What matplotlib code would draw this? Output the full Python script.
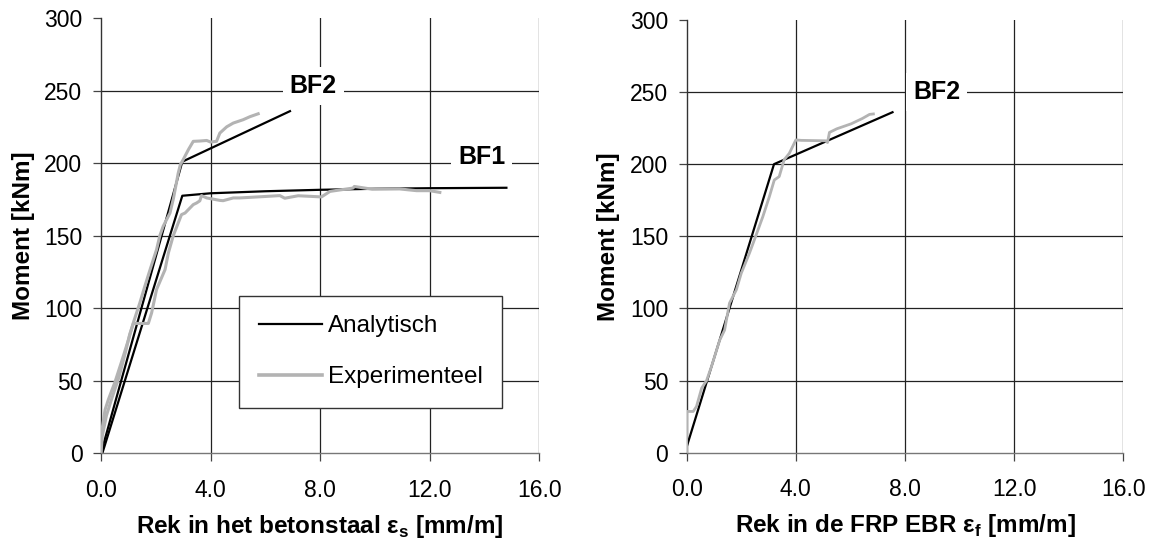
import matplotlib
matplotlib.use("Agg")
import matplotlib.pyplot as plt
from matplotlib.lines import Line2D

plt.rcParams['font.family'] = ['Liberation Sans', 'DejaVu Sans']
plt.rcParams['mathtext.fontset'] = 'custom'
plt.rcParams['mathtext.rm'] = 'Liberation Sans'
plt.rcParams['mathtext.bf'] = 'Liberation Sans:bold'

# --- Left panel: strain in the reinforcing steel ---
bf1_ana_x = [0.05, 2.97, 4.0, 6.0, 8.0, 10.0, 12.0, 14.8]
bf1_ana_y = [0.0, 177.5, 179.2, 180.6, 181.6, 182.3, 182.7, 183.0]

bf2_ana_x = [0.0, 2.97, 6.9]
bf2_ana_y = [0.0, 201.0, 235.8]

bf1_exp_x = [0.0, 0.05, 0.2, 0.4, 0.65, 0.9, 1.05, 1.18, 1.73, 1.85, 2.03, 2.34,
             2.46, 2.64, 2.94, 3.07, 3.37, 3.49, 3.61, 3.67, 3.86, 4.34, 4.46,
             4.83, 5.07, 6.0, 6.53, 6.71, 7.2, 8.05, 8.36, 9.2, 9.25, 9.9, 10.9,
             11.52, 12.0, 12.37]
bf1_exp_y = [0.0, 12.0, 26.0, 38.0, 52.0, 70.0, 82.0, 89.5, 89.5, 96.8, 112.9, 126.6,
             138.0, 150.0, 164.5, 165.6, 171.4, 172.5, 174.0, 177.6, 176.0, 174.3, 174.1,
             176.0, 176.0, 177.0, 177.6, 175.8, 177.5, 176.7, 180.5, 182.8, 183.9, 182.0,
             182.2, 181.0, 181.0, 179.8]

bf2_exp_x = [0.0, 0.02, 0.15, 0.27, 0.51, 0.75, 1.0, 1.2, 1.42, 1.6, 1.8, 2.03,
             2.15, 2.27, 2.52, 2.65, 2.82, 2.9, 3.0, 3.19, 3.37, 3.6, 3.86, 4.0,
             4.22, 4.34, 4.59, 4.83, 5.19, 5.44, 5.74]
bf2_exp_y = [0.0, 14.0, 30.0, 37.0, 49.0, 63.0, 78.0, 91.0, 103.7, 115.0, 127.0, 140.4,
             150.0, 156.4, 165.6, 176.0, 193.0, 199.0, 202.3, 209.2, 215.0, 215.2, 215.6, 214.5,
             215.0, 220.7, 225.0, 227.6, 229.9, 232.0, 234.0]

# --- Right panel: strain in the externally bonded FRP ---
frp_ana_x = [0.0, 3.2, 7.54]
frp_ana_y = [4.0, 200.0, 236.0]

frp_exp_x = [0.0, 0.0, 0.24, 0.36, 0.55, 0.73, 0.91, 1.21, 1.39, 1.57, 1.82, 2.0,
             2.3, 2.48, 2.79, 3.03, 3.21, 3.39, 3.57, 3.76, 4.0, 4.2, 5.09, 5.16,
             5.23, 5.5, 6.03, 6.44, 6.7, 6.84]
frp_exp_y = [0.0, 28.6, 28.6, 32.0, 44.8, 50.0, 59.8, 78.0, 85.0, 103.7, 112.9, 124.4,
             138.3, 147.5, 163.6, 177.5, 189.0, 191.4, 203.0, 207.5, 216.8, 216.5, 216.2, 215.0,
             222.0, 224.5, 228.0, 231.7, 234.5, 234.8]

x_ticks = [0, 4, 8, 12, 16]
x_tick_labels = ['0.0', '4.0', '8.0', '12.0', '16.0']
y_ticks = [0, 50, 100, 150, 200, 250, 300]

legend_labels = ['Analytisch', 'Experimenteel']

ANA_COLOR = 'black'
EXP_COLOR = '#b3b3b3'
GRID_COLOR = '#222222'

fig = plt.figure(figsize=(11.55, 5.39), dpi=100)
ax1 = fig.add_axes([0.0874, 0.1590, 0.3795, 0.8076])
ax2 = fig.add_axes([0.5945, 0.1601, 0.3782, 0.8030])


def style_axes(ax, xlabel):
    ax.set_xlim(0, 16)
    ax.set_ylim(0, 300)
    ax.set_xticks(x_ticks)
    ax.set_xticklabels(x_tick_labels)
    ax.set_yticks(y_ticks)
    for s in ('top', 'right'):
        ax.spines[s].set_visible(False)
    ax.spines['left'].set_color('#333333')
    ax.spines['bottom'].set_color('#777777')
    for s in ('left', 'bottom'):
        ax.spines[s].set_linewidth(1.0)
    for v in y_ticks[1:-1]:
        ax.axhline(v, color=GRID_COLOR, lw=0.9, zorder=1)
    for v in x_ticks[1:]:
        ax.axvline(v, color=GRID_COLOR, lw=0.9, zorder=1)
    ax.tick_params(axis='both', direction='out', length=5.8, width=0.9,
                   color='#444444', labelsize=16.5)
    ax.tick_params(axis='x', pad=12.5)
    ax.tick_params(axis='y', pad=7.5)
    ax.set_xlabel(xlabel, fontsize=17.5, fontweight='bold', labelpad=8)
    ax.set_ylabel('Moment [kNm]', fontsize=17.5, fontweight='bold', labelpad=7)


style_axes(ax1, r'Rek in het betonstaal ε$_\mathbf{s}$ [mm/m]')
style_axes(ax2, r'Rek in de FRP EBR ε$_\mathbf{f}$ [mm/m]')

# Left panel curves
ax1.plot(bf1_ana_x, bf1_ana_y, color=ANA_COLOR, lw=1.6, zorder=3)
ax1.plot(bf2_ana_x, bf2_ana_y, color=ANA_COLOR, lw=1.6, zorder=3)
ax1.plot(bf1_exp_x, bf1_exp_y, color=EXP_COLOR, lw=2.2, zorder=4)
ax1.plot(bf2_exp_x, bf2_exp_y, color=EXP_COLOR, lw=2.2, zorder=4)

label_box = dict(facecolor='white', edgecolor='none', pad=5)
ax1.text(7.75, 253, 'BF2', ha='center', va='center', fontsize=18,
         fontweight='bold', bbox=label_box, zorder=6)
ax1.text(13.9, 204, 'BF1', ha='center', va='center', fontsize=18,
         fontweight='bold', bbox=label_box, zorder=6)

handles = [Line2D([], [], color=ANA_COLOR, lw=1.6),
           Line2D([], [], color=EXP_COLOR, lw=2.6)]
leg = ax1.legend(handles, legend_labels, loc='upper left',
                 bbox_to_anchor=(5.05 / 16, 108.7 / 300), borderaxespad=0,
                 fancybox=False, framealpha=1, edgecolor='#333333',
                 fontsize=17.5, handlelength=2.6, handletextpad=0.25,
                 labelspacing=1.2, borderpad=0.8)
leg.get_frame().set_linewidth(1.0)
leg.set_zorder(7)

# Right panel curves
ax2.plot(frp_ana_x, frp_ana_y, color=ANA_COLOR, lw=1.6, zorder=3)
ax2.plot(frp_exp_x, frp_exp_y, color=EXP_COLOR, lw=2.0, zorder=4)
ax2.text(9.15, 250, 'BF2', ha='center', va='center', fontsize=18,
         fontweight='bold', bbox=label_box, zorder=6)

fig.savefig('out.png', dpi=100)
